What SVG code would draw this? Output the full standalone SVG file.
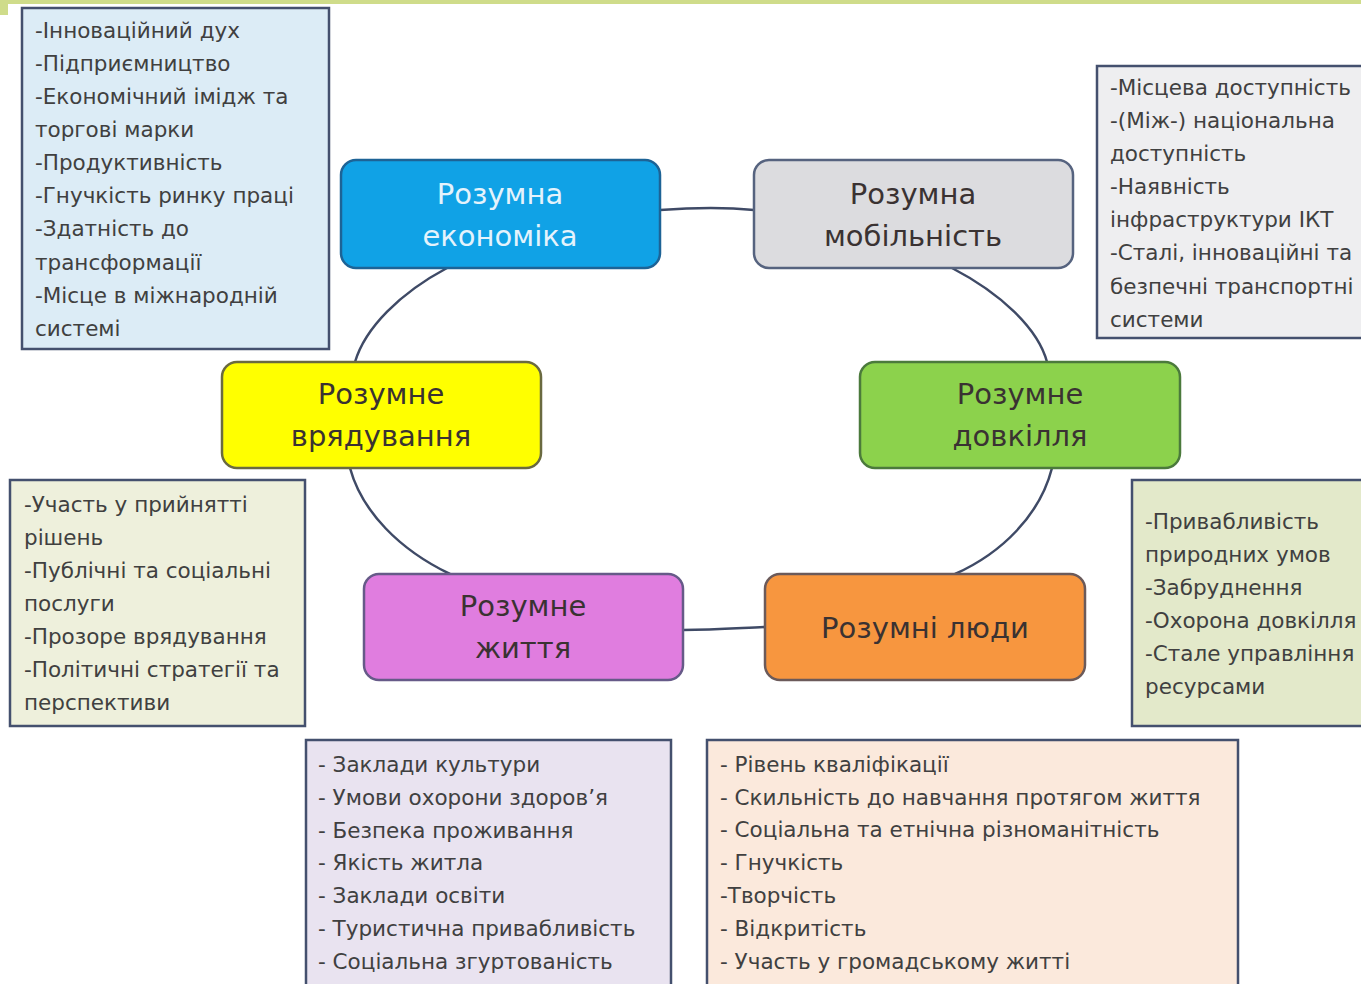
<svg xmlns="http://www.w3.org/2000/svg" width="1361" height="984" viewBox="0 0 1361 984">
<style>
.bg{fill:#ffffff}
.node rect{stroke-width:2.5}
.nt{font-family:"DejaVu Sans","Liberation Sans",sans-serif;font-size:29px;text-anchor:middle;fill:#3a3232}
.box{stroke:#44506e;stroke-width:2.5}
.bt{font-family:"DejaVu Sans","Liberation Sans",sans-serif;font-size:21.5px;fill:#404040}
.conn path{fill:none;stroke:#3f4a66;stroke-width:2.5}
</style>
<rect class="bg" x="0" y="0" width="1361" height="984"/>
<rect x="0" y="0" width="1361" height="4" fill="#cfdc8a"/>
<rect x="0" y="0" width="8" height="15" fill="#cfdc8a"/>

<g id="connectors" class="conn">
<path d="M660 210 C 700 207, 725 207, 754 210"/>
<path d="M447 268 C 400 293, 365 328, 355 362"/>
<path d="M952 268 C 1000 293, 1038 328, 1047 362"/>
<path d="M350 468 C 362 512, 400 550, 450 574"/>
<path d="M1052 468 C 1040 515, 1002 553, 955 574"/>
<path d="M683 630 C 715 630, 740 628, 765 627"/>
</g>

<g id="box-economy">
<rect class="box" x="22" y="8" width="307" height="341" fill="#dcecf6"/>
<text class="bt" x="35" y="38">-Інноваційний дух</text>
<text class="bt" x="35" y="71">-Підприємництво</text>
<text class="bt" x="35" y="104">-Економічний імідж та</text>
<text class="bt" x="35" y="137">торгові марки</text>
<text class="bt" x="35" y="170">-Продуктивність</text>
<text class="bt" x="35" y="203">-Гнучкість ринку праці</text>
<text class="bt" x="35" y="236">-Здатність до</text>
<text class="bt" x="35" y="270">трансформації</text>
<text class="bt" x="35" y="303">-Місце в міжнародній</text>
<text class="bt" x="35" y="336">системі</text>
</g>

<g id="box-mobility">
<rect class="box" x="1097" y="66" width="280" height="272" fill="#eeeef0"/>
<text class="bt" x="1110" y="95">-Місцева доступність</text>
<text class="bt" x="1110" y="128">-(Між-) національна</text>
<text class="bt" x="1110" y="161">доступність</text>
<text class="bt" x="1110" y="194">-Наявність</text>
<text class="bt" x="1110" y="227">інфраструктури ІКТ</text>
<text class="bt" x="1110" y="260">-Сталі, інноваційні та</text>
<text class="bt" x="1110" y="294">безпечні транспортні</text>
<text class="bt" x="1110" y="327">системи</text>
</g>

<g id="box-governance">
<rect class="box" x="10" y="480" width="295" height="246" fill="#eef0dc"/>
<text class="bt" x="24" y="512">-Участь у прийнятті</text>
<text class="bt" x="24" y="545">рішень</text>
<text class="bt" x="24" y="578">-Публічні та соціальні</text>
<text class="bt" x="24" y="611">послуги</text>
<text class="bt" x="24" y="644">-Прозоре врядування</text>
<text class="bt" x="24" y="677">-Політичні стратегії та</text>
<text class="bt" x="24" y="710">перспективи</text>
</g>

<g id="box-environment">
<rect class="box" x="1132" y="480" width="245" height="246" fill="#e3e9ca"/>
<text class="bt" x="1145" y="529">-Привабливість</text>
<text class="bt" x="1145" y="562">природних умов</text>
<text class="bt" x="1145" y="595">-Забруднення</text>
<text class="bt" x="1145" y="628">-Охорона довкілля</text>
<text class="bt" x="1145" y="661">-Стале управління</text>
<text class="bt" x="1145" y="694">ресурсами</text>
</g>

<g id="box-living">
<rect class="box" x="306" y="740" width="365" height="260" fill="#e9e3f0"/>
<text class="bt" x="318" y="772">- Заклади культури</text>
<text class="bt" x="318" y="805">- Умови охорони здоров’я</text>
<text class="bt" x="318" y="838">- Безпека проживання</text>
<text class="bt" x="318" y="870">- Якість житла</text>
<text class="bt" x="318" y="903">- Заклади освіти</text>
<text class="bt" x="318" y="936">- Туристична привабливість</text>
<text class="bt" x="318" y="969">- Соціальна згуртованість</text>
</g>

<g id="box-people">
<rect class="box" x="707" y="740" width="531" height="260" fill="#fbe9dc"/>
<text class="bt" x="720" y="772">- Рівень кваліфікації</text>
<text class="bt" x="720" y="805">- Скильність до навчання протягом життя</text>
<text class="bt" x="720" y="837">- Соціальна та етнічна різноманітність</text>
<text class="bt" x="720" y="870">- Гнучкість</text>
<text class="bt" x="720" y="903">-Творчість</text>
<text class="bt" x="720" y="936">- Відкритість</text>
<text class="bt" x="720" y="969">- Участь у громадському житті</text>
</g>

<g id="node-economy" class="node">
<rect x="341" y="160" width="319" height="108" rx="15" fill="#10a2e6" stroke="#1d6396"/>
<text class="nt" x="500" y="204" style="fill:#e4f3fc">Розумна</text>
<text class="nt" x="500" y="246" style="fill:#e4f3fc">економіка</text>
</g>

<g id="node-mobility" class="node">
<rect x="754" y="160" width="319" height="108" rx="15" fill="#dcdcdf" stroke="#56637f"/>
<text class="nt" x="913" y="204">Розумна</text>
<text class="nt" x="913" y="246">мобільність</text>
</g>

<g id="node-governance" class="node">
<rect x="222" y="362" width="319" height="106" rx="15" fill="#ffff00" stroke="#6a6a40"/>
<text class="nt" x="381" y="404">Розумне</text>
<text class="nt" x="381" y="446">врядування</text>
</g>

<g id="node-environment" class="node">
<rect x="860" y="362" width="320" height="106" rx="15" fill="#8cd24c" stroke="#4b7a3c"/>
<text class="nt" x="1020" y="404">Розумне</text>
<text class="nt" x="1020" y="446">довкілля</text>
</g>

<g id="node-living" class="node">
<rect x="364" y="574" width="319" height="106" rx="15" fill="#e07ddf" stroke="#665a88"/>
<text class="nt" x="523" y="616">Розумне</text>
<text class="nt" x="523" y="658">життя</text>
</g>

<g id="node-people" class="node">
<rect x="765" y="574" width="320" height="106" rx="15" fill="#f7963f" stroke="#6b5a5a"/>
<text class="nt" x="925" y="638">Розумні люди</text>
</g>
</svg>
